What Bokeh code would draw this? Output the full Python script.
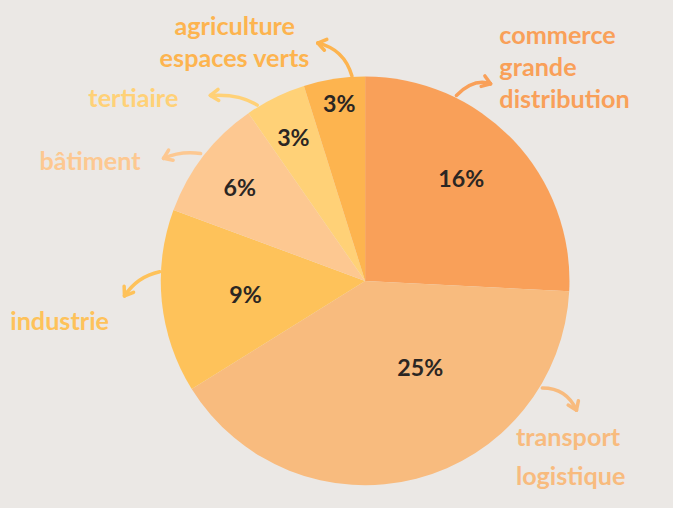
import numpy as np
from bokeh.plotting import figure
from bokeh.models import Range1d, ColumnDataSource
from bokeh.core.properties import value
from bokeh.embed import file_html
from bokeh.resources import INLINE

# ---- data ----
categories = ["commerce\ngrande\ndistribution", "transport\nlogistique", "industrie",
              "bâtiment", "tertiaire", "agriculture\nespaces verts"]
values = [16, 25, 9, 6, 3, 3]
pct_labels = ["16%", "25%", "9%", "6%", "3%", "3%"]
colors = ["#F9A059", "#F8BB7E", "#FEC25A", "#FDC891", "#FFD177", "#FDB44F"]

W, H = 657, 492
RW, RH = 673, 508
BG = "#EBE8E5"
S = H / RH


def X(rx):
    return rx


def Y(ry):
    return RH - ry


p = figure(width=W, height=H, output_backend="svg", toolbar_location=None,
           x_range=Range1d(0, RW), y_range=Range1d(0, RH), min_border=0)
p.axis.visible = False
p.grid.visible = False
p.outline_line_color = None
p.background_fill_color = BG
p.border_fill_color = BG

# ---- pie ----
vals = np.array(values, dtype=float)
total = vals.sum()
cum = np.concatenate([[0], np.cumsum(vals)])
a_start = np.pi / 2 - 2 * np.pi * cum[:-1] / total
a_end = np.pi / 2 - 2 * np.pi * cum[1:] / total
cx, cy, R = X(373.5), Y(289.5), 211 * (RW / W) * S

src = ColumnDataSource(dict(start=a_end, end=a_start, color=colors))
p.wedge(x=cx, y=cy, radius=R, start_angle="start", end_angle="end",
        direction="anticlock", fill_color="color", line_color=None, source=src)

fs = lambda px: f"{px * S:.1f}px"

# ---- percent labels (layout positions, reference pixels) ----
pct_pos = [(472, 183), (430, 378), (251, 303), (245, 193), (300, 141), (347, 106)]
p.text(x=[X(a) for a, b in pct_pos], y=[Y(b) for a, b in pct_pos], text=pct_labels,
       text_align="center", text_baseline="middle", text_color="#2B2623",
       text_font=value("Lato"), text_font_style="bold", text_font_size=fs(24))

# ---- category labels ----
cat_layout = [  # (x, y of first line, align, line spacing)
    (511, 35, "left", 33),
    (528, 450, "left", 40),
    (10, 330, "left", 0),
    (40, 165, "left", 0),
    (90, 100, "left", 0),
    (240, 25, "center", 33),
]
for cat, col, (lx, ly, al, sp) in zip(categories, colors, cat_layout):
    lines = cat.split("\n")
    p.text(x=[X(lx) for i in range(len(lines))],
           y=[Y(ly + i * sp) for i in range(len(lines))], text=lines,
           text_align=al, text_baseline="middle", text_color=col,
           text_font=value("Lato"), text_font_style="bold", text_font_size=fs(26))

# ---- arrows (start, control, head) in reference pixels ----
arrows = [
    ((467, 98), (485, 80), (502, 86)),
    ((555, 400), (580, 400), (590, 423)),
    ((163, 280), (140, 285), (127, 305)),
    ((205, 158), (185, 155), (167, 163)),
    ((263, 108), (245, 96), (215, 98)),
    ((360, 78), (352, 50), (325, 44)),
]
for (s, c, e), col in zip(arrows, colors):
    p.quadratic(x0=X(s[0]), y0=Y(s[1]), x1=X(e[0]), y1=Y(e[1]), cx=X(c[0]), cy=Y(c[1]),
                line_color=col, line_width=3.5, line_cap="round")
    d = np.array([X(e[0]) - X(c[0]), Y(e[1]) - Y(c[1])])
    d = d / np.linalg.norm(d)
    L = 10
    xs, ys = [], []
    for ang in (np.radians(35), -np.radians(35)):
        rot = np.array([[np.cos(ang), -np.sin(ang)], [np.sin(ang), np.cos(ang)]])
        b = rot @ (-d) * L
        xs.append([X(e[0]), X(e[0]) + b[0]])
        ys.append([Y(e[1]), Y(e[1]) + b[1]])
    p.multi_line(xs=xs, ys=ys, line_color=col, line_width=3.5, line_cap="round")

html = file_html(p, INLINE)
html = html.replace("<head>", "<head><style>html,body{background:%s;}</style>" % BG, 1)
open("out.html", "w").write(html)
